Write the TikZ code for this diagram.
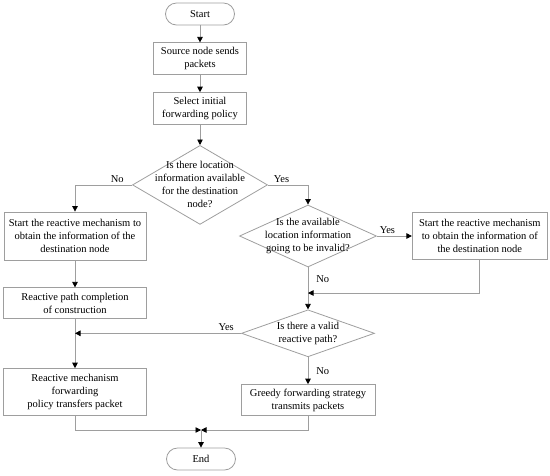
\documentclass[tikz,border=0pt]{standalone}
\usepackage{fontspec}
\setmainfont{Liberation Serif}
\usetikzlibrary{arrows.meta,positioning,shapes.geometric}

\begin{document}
\begin{tikzpicture}[
    x=1pt, y=-1pt,
    node distance=17pt,
    every node/.style={font=\fontsize{10.5}{13}\selectfont},
    gline/.style={draw=black!38, line width=0.8pt},
    term/.style={gline, rounded corners=11pt, minimum width=69pt, minimum height=22pt},
    box/.style={gline, align=center, inner sep=2pt},
    decision/.style={gline, diamond, inner sep=0pt},
    dtext/.style={align=center, inner sep=0pt},
    lbl/.style={inner sep=2pt},
    flow/.style={draw=black!38, line width=0.8pt, -{Triangle[length=5.5pt, width=5.5pt, color=black]}},
]
\useasboundingbox (0,0) rectangle (550,475);

\node[term] (start) at (200,14) {Start};
\node[box, below=17pt of start, minimum width=93pt, minimum height=32pt] (sends) {Source node sends\\packets};
\node[box, below=17pt of sends, minimum width=93pt, minimum height=32pt] (policy) {Select initial\\forwarding policy};
\node[decision, below=20pt of policy, minimum width=135pt, minimum height=79pt,
      label={[dtext]center:Is there location\\information available\\for the destination\\node?}] (locinfo) {};

\node[box, minimum width=142pt, minimum height=48pt] (reactL) at (75,236) {Start the reactive mechanism to\\obtain the information of the\\destination node};
\node[box, below=27pt of reactL, minimum width=143pt, minimum height=31pt] (complete) {Reactive path completion\\of construction};
\node[box, below=49pt of complete, minimum width=143pt, minimum height=47pt] (forward) {Reactive mechanism\\forwarding\\policy transfers packet};

\node[decision, minimum width=137pt, minimum height=62pt,
      label={[dtext]center:Is the available\\location information\\going to be invalid?}] (invalid) at (308,236) {};
\node[box, right=35pt of invalid, minimum width=135pt, minimum height=47pt] (reactR) {Start the reactive mechanism\\to obtain the information of\\the destination node};
\node[decision, below=42pt of invalid, minimum width=133pt, minimum height=47pt,
      label={[dtext]center:Is there a valid\\reactive path?}] (validpath) {};
\node[box, below=27pt of validpath, minimum width=134pt, minimum height=31pt] (greedy) {Greedy forwarding strategy\\transmits packets};

\node[term] (stop) at (201,459) {End};

\coordinate (joinR) at (invalid.south |- 0,293);
\coordinate (joinB) at (stop.north |- 0,430);

\draw[flow] (start) -- (sends);
\draw[flow] (sends) -- (policy);
\draw[flow] (policy) -- (locinfo);
\draw[flow] (locinfo.west) -| node[lbl, above, pos=0.13] {No} (reactL.north);
\draw[flow] (locinfo.east) -| node[lbl, above, pos=0.17] {Yes} (invalid.north);
\draw[flow] (invalid.east) -- node[lbl, above, pos=0.3] {Yes} (reactR.west);
\draw[flow] (invalid.south) -- node[lbl, right, pos=0.28, xshift=6pt] {No} (validpath.north);
\draw[flow] (reactR.south) |- (joinR);
\draw[flow] (reactL) -- (complete);
\draw[flow] (complete) -- (forward);
\draw[flow] (validpath.west) -- node[lbl, above, pos=0.09] {Yes} (complete.south |- validpath.west);
\draw[flow] (validpath) -- node[lbl, right, xshift=6pt] {No} (greedy);
\draw[flow] (forward.south) |- (joinB);
\draw[flow] (greedy.south) |- (joinB);
\draw[flow] (joinB) -- (stop);
\end{tikzpicture}
\end{document}
